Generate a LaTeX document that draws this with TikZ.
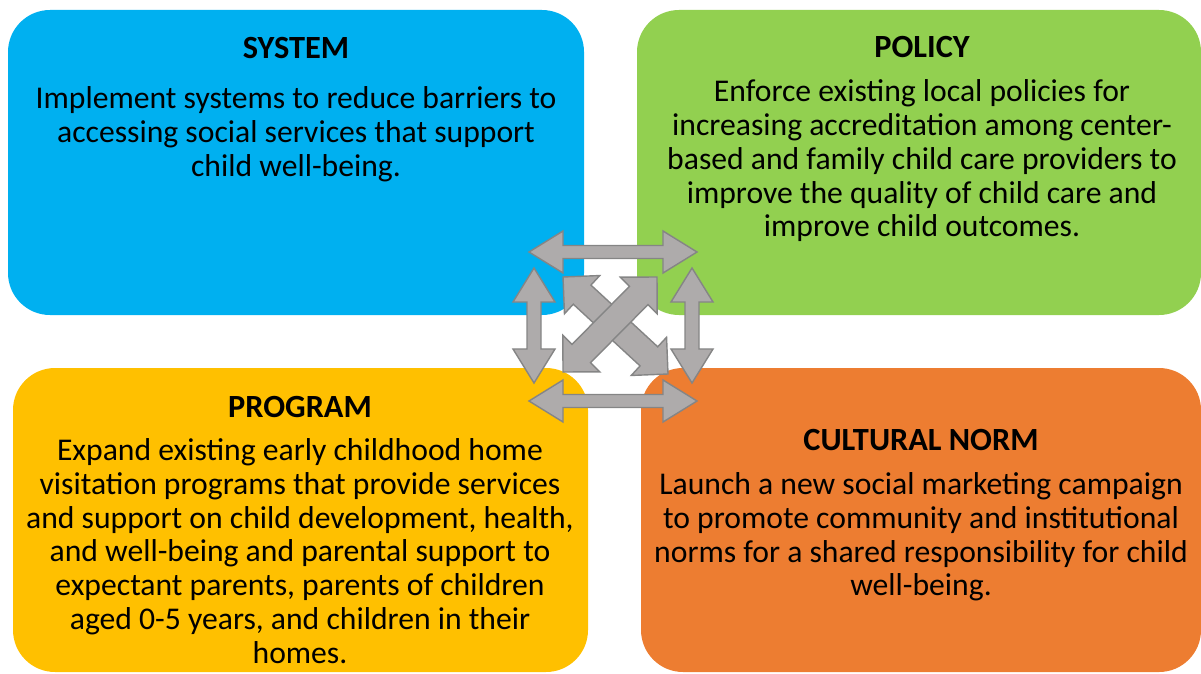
\documentclass[tikz,border=0pt]{standalone}
\usepackage{fontspec}
\setmainfont{Carlito}
\usetikzlibrary{calc}
\definecolor{sysblue}{HTML}{00B0F0}
\definecolor{polgreen}{HTML}{92D050}
\definecolor{proggold}{HTML}{FFC000}
\definecolor{normorange}{HTML}{ED7D31}
\definecolor{arrowfill}{HTML}{AEABAB}
\definecolor{arrowline}{HTML}{858585}
\newcommand{\dblarrow}[5]{\filldraw[blockarrow] (#1) -- ($(#1)!#3!(#2)!#4!90:(#2)$) -- ($(#1)!#3!(#2)!#5!90:(#2)$) -- ($(#2)!#3!(#1)!#5!-90:(#1)$) -- ($(#2)!#3!(#1)!#4!-90:(#1)$) -- (#2) -- ($(#2)!#3!(#1)!#4!90:(#1)$) -- ($(#2)!#3!(#1)!#5!90:(#1)$) -- ($(#1)!#3!(#2)!#5!-90:(#2)$) -- ($(#1)!#3!(#2)!#4!-90:(#2)$) -- cycle;}
\begin{document}
\begin{tikzpicture}[x=0.01cm, y=-0.01cm,
	box/.style={rounded corners=0.42cm},
	title/.style={font=\bfseries\fontsize{9.2}{11}\selectfont},
	body/.style={align=center, font=\fontsize{9}{9.6}\selectfont},
	blockarrow/.style={fill=arrowfill, draw=arrowline, line width=0.4pt, line join=miter}]
			\useasboundingbox (0,0) rectangle (1201,673);
			\fill[box, sysblue] (8,10) rectangle (584,315);
			\fill[box, polgreen] (637,10) rectangle (1201,315);
			\fill[box, proggold] (13,368) rectangle (588,672);
			\fill[box, normorange] (641,368) rectangle (1201,672);
			\node[title] (systitle) at (296,48) {SYSTEM};
			\node[body] (systext) at (296,134) {Implement systems to reduce barriers to\\accessing social services that support\\child well-being.};
			\node[title] (poltitle) at (922,47) {POLICY};
			\node[body] (poltext) at (922,161) {Enforce existing local policies for\\increasing accreditation among center-\\based and family child care providers to\\improve the quality of child care and\\improve child outcomes.};
			\node[title] (progtitle) at (300,407) {PROGRAM};
			\node[body] (progtext) at (300,551) {Expand existing early childhood home\\visitation programs that provide services\\and support on child development, health,\\and well-being and parental support to\\expectant parents, parents of children\\aged 0-5 years, and children in their\\homes.};
			\node[title] (normtitle) at (921,440) {CULTURAL NORM};
			\node[body] (normtext) at (921,537) {Launch a new social marketing campaign\\to promote community and institutional\\norms for a shared responsibility for child\\well-being.};
			\coordinate (topL) at (529,252);
			\coordinate (topR) at (697,252);
			\coordinate (botL) at (529,401);
			\coordinate (botR) at (697,401);
			\coordinate (leftT) at (534,268);
			\coordinate (leftB) at (534,383);
			\coordinate (rightT) at (692,268);
			\coordinate (rightB) at (692,383);
			\coordinate (diagTL) at (563,277);
			\coordinate (diagBR) at (668,374);
			\coordinate (diagTR) at (657,277);
			\coordinate (diagBL) at (563,372);
			\dblarrow{topL}{topR}{0.34cm}{0.21cm}{0.065cm}
			\dblarrow{botL}{botR}{0.34cm}{0.21cm}{0.065cm}
			\dblarrow{leftT}{leftB}{0.34cm}{0.21cm}{0.07cm}
			\dblarrow{rightT}{rightB}{0.34cm}{0.21cm}{0.07cm}
			\dblarrow{diagTL}{diagBR}{0.26cm}{0.26cm}{0.13cm}
			\dblarrow{diagBL}{diagTR}{0.26cm}{0.26cm}{0.13cm}
		\end{tikzpicture}
\end{document}
